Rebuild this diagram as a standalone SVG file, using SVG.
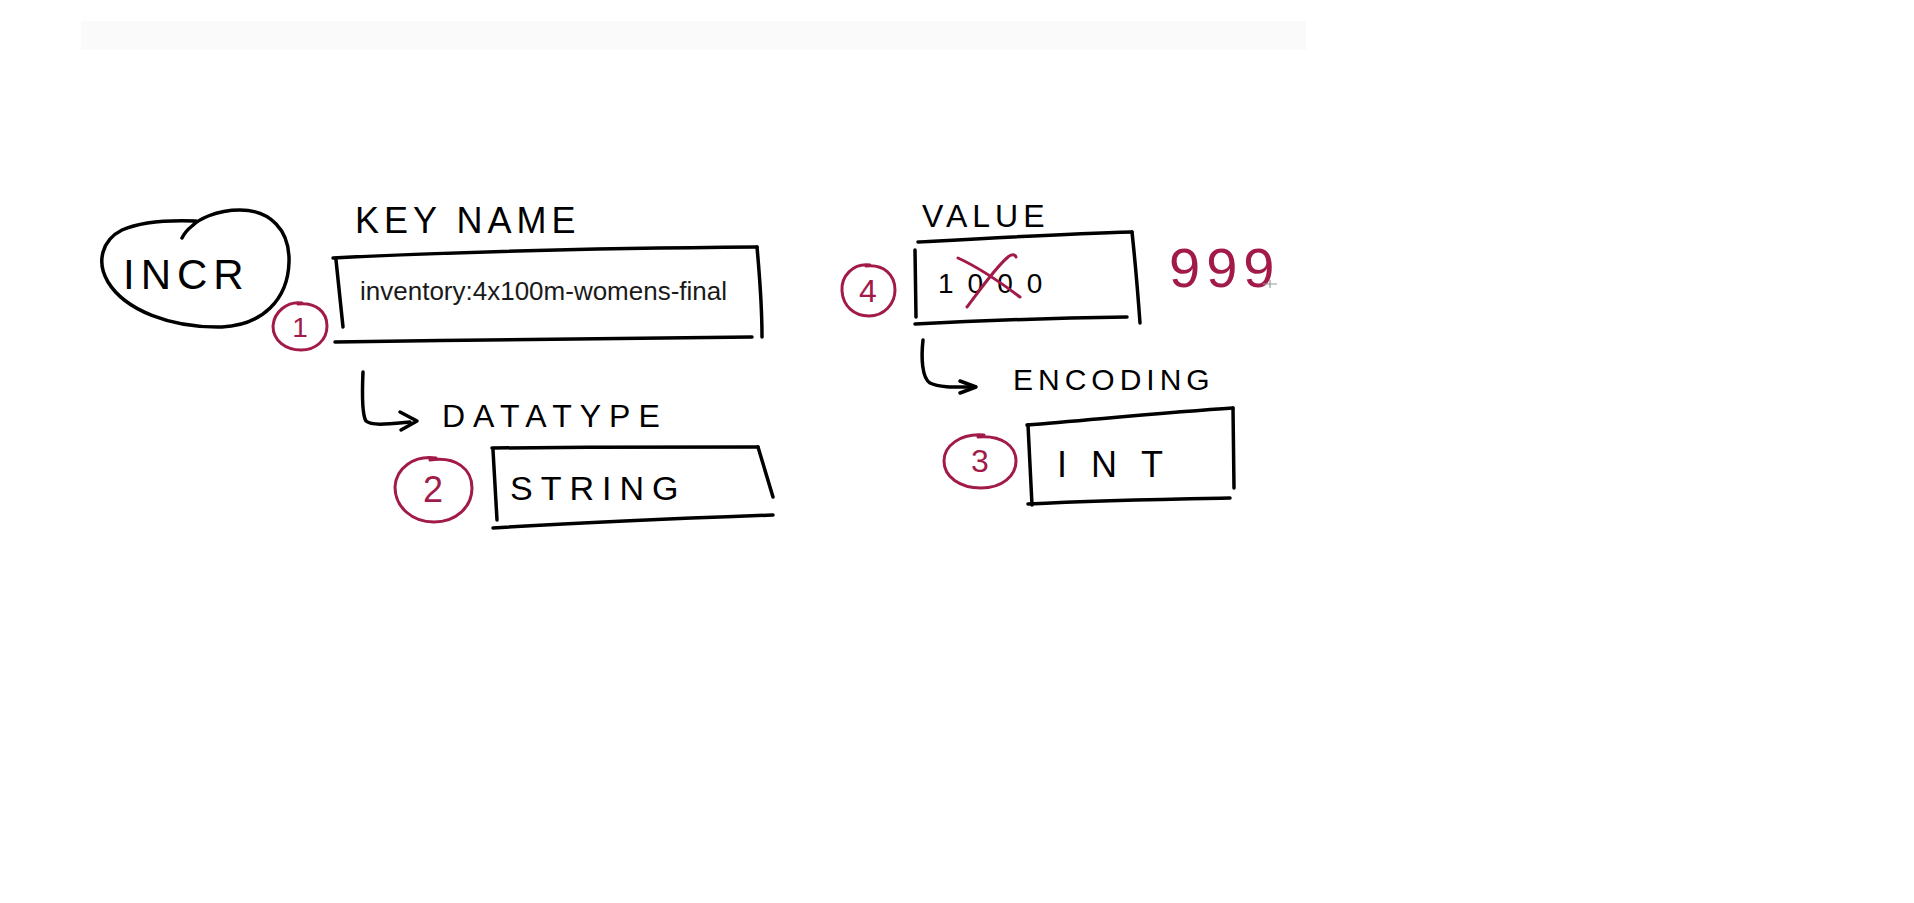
<svg xmlns="http://www.w3.org/2000/svg" width="1914" height="903" viewBox="0 0 1914 903">
  <style>
    .ink { fill: none; stroke: #000; stroke-width: 3.5; stroke-linecap: round; stroke-linejoin: round; }
    .red { fill: none; stroke: #a21a4a; stroke-width: 3; stroke-linecap: round; stroke-linejoin: round; }
    .hand { font-family: "Liberation Sans", Arial, sans-serif; fill: #000; }
    .rtxt { font-family: "Liberation Sans", Arial, sans-serif; fill: #a21a4a; }
    .typed { font-family: "Liberation Sans", Arial, sans-serif; fill: #1a1a1a; font-size: 26px; }
  </style>
  <rect width="1914" height="903" fill="#ffffff"/>
  <rect x="81" y="21" width="1225" height="29" fill="#fafafa"/>

  <g id="incr">
    <path class="ink" d="M 196,221 C 170,220 140,222 122,230 C 102,240 96,262 108,282 C 125,310 170,328 222,327 C 262,325 288,300 289,262 C 290,230 270,210 240,210 C 215,210 198,220 192,226 C 187,230 184,234 182,238"/>
    <text class="hand" x="123" y="289" font-size="42" letter-spacing="6">INCR</text>
  </g>

  <g id="badge1">
    <path class="red" d="M 302,303 C 287,301 274,312 273,326 C 273,341 286,350 301,350 C 316,350 327,340 327,326 C 327,312 316,302 298,304"/>
    <text class="rtxt" x="300" y="337" font-size="28" text-anchor="middle">1</text>
  </g>

  <g id="keyname">
    <text class="hand" x="355" y="233" font-size="36" letter-spacing="5">KEY NAME</text>
    <path class="ink" d="M 333,258 C 450,252 620,248 757,247"/>
    <path class="ink" d="M 336,260 L 343,327"/>
    <path class="ink" d="M 757,247 C 760,280 762,310 762,337"/>
    <path class="ink" d="M 335,342 C 480,340 640,338 752,337"/>
    <text class="typed" x="360" y="300">inventory:4x100m-womens-final</text>
  </g>

  <g id="value">
    <text class="hand" x="922" y="227" font-size="32" letter-spacing="5">VALUE</text>
    <path class="ink" d="M 918,242 C 990,238 1060,234 1132,232"/>
    <path class="ink" d="M 915,250 L 916,317"/>
    <path class="ink" d="M 1132,232 C 1135,260 1138,295 1140,323"/>
    <path class="ink" d="M 915,324 C 990,320 1060,318 1127,317"/>
    <text class="hand" x="938" y="293" font-size="28" letter-spacing="14">1000</text>
    <path class="red" d="M 958,258 C 980,268 1000,282 1020,297"/>
    <path class="red" d="M 967,307 C 980,290 995,268 1008,257 C 1011,254 1015,254 1016,257"/>
  </g>

  <g id="badge4">
    <path class="red" d="M 870,265 C 853,263 841,276 842,291 C 843,306 854,316 869,316 C 884,316 895,304 895,290 C 895,275 884,264 866,266"/>
    <text class="rtxt" x="868" y="302" font-size="32" text-anchor="middle">4</text>
  </g>

  <g id="newvalue">
    <text class="rtxt" x="1169" y="287" font-size="56" letter-spacing="6">999</text>
    <path d="M 1263,284 L 1277,284 M 1270,280 L 1270,288" stroke="#999" stroke-width="1.2" fill="none"/>
  </g>

  <g id="datatype">
    <text class="hand" x="442" y="427" font-size="32" letter-spacing="8">DATATYPE</text>
  </g>

  <g id="string">
    <path class="ink" d="M 492,448 C 580,447 680,447 758,447"/>
    <path class="ink" d="M 493,450 L 497,520"/>
    <path class="ink" d="M 758,447 L 773,497"/>
    <path class="ink" d="M 493,528 C 590,522 690,518 773,515"/>
    <text class="hand" x="510" y="500" font-size="34" letter-spacing="8">STRING</text>
  </g>

  <g id="badge2">
    <path class="red" d="M 436,458 C 414,455 396,468 395,487 C 395,507 412,522 434,522 C 456,522 472,507 472,488 C 472,469 456,456 430,460"/>
    <text class="rtxt" x="433" y="502" font-size="36" text-anchor="middle">2</text>
  </g>

  <g id="encoding">
    <text class="hand" x="1013" y="390" font-size="30" letter-spacing="5">ENCODING</text>
  </g>

  <g id="int">
    <path class="ink" d="M 1027,425 C 1090,420 1170,412 1233,408"/>
    <path class="ink" d="M 1028,425 L 1032,505"/>
    <path class="ink" d="M 1233,408 L 1234,488"/>
    <path class="ink" d="M 1028,504 C 1100,500 1170,499 1230,498"/>
    <text class="hand" x="1057" y="477" font-size="36" letter-spacing="24">INT</text>
  </g>

  <g id="badge3">
    <path class="red" d="M 984,435 C 960,433 944,446 944,461 C 944,477 960,488 981,488 C 1002,488 1016,476 1016,461 C 1016,446 1002,435 978,437"/>
    <text class="rtxt" x="980" y="472" font-size="32" text-anchor="middle">3</text>
  </g>

  <g id="connectors">
    <path class="ink" d="M 363,372 C 362,395 362,415 366,421 C 372,426 388,424 410,422"/>
    <path class="ink" d="M 400,412 L 417,421 L 401,430"/>
    <path class="ink" d="M 923,340 C 921,358 922,378 930,383 C 940,388 958,387 975,387"/>
    <path class="ink" d="M 960,381 L 976,387 L 960,393"/>
  </g>
</svg>
